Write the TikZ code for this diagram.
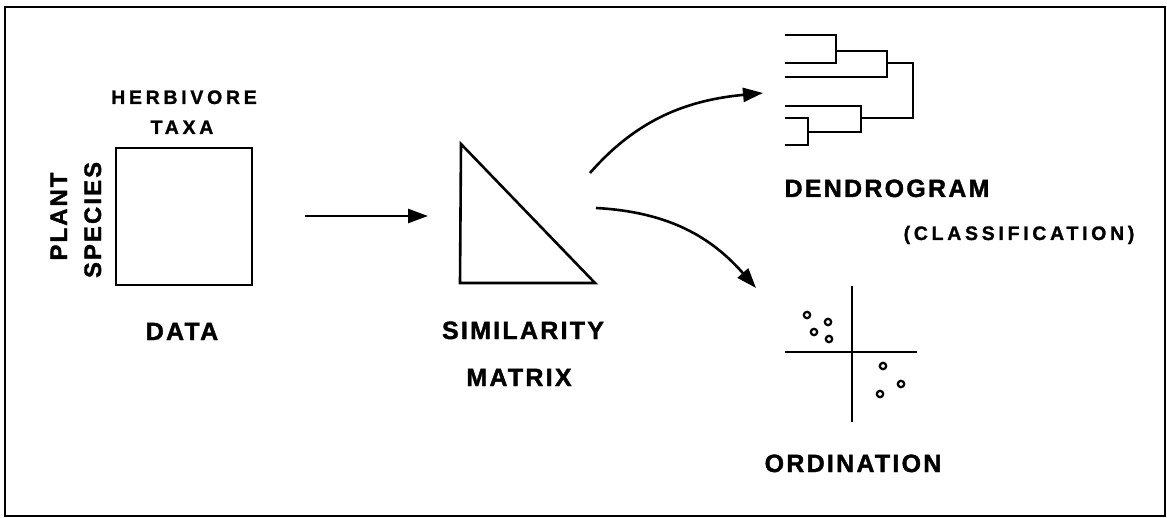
\documentclass[tikz,border=0pt]{standalone}
\usepackage{fontspec}
\setmainfont{Liberation Sans}
\newfontfamily\capsfont{Liberation Sans}[LetterSpace=9, FakeBold=1.5]
\newfontfamily\widecapsfont{Liberation Sans}[LetterSpace=19, FakeBold=1.2]
\usetikzlibrary{arrows.meta}

\begin{document}
\begin{tikzpicture}[x=0.5pt, y=-0.5pt, line width=1.3pt, >={Triangle[length=10pt,width=7pt]},
          title/.style={font=\capsfont\bfseries\fontsize{12.5}{14}\selectfont, inner sep=0pt, text height=9pt, text depth=0pt},
          axis/.style={font=\widecapsfont\bfseries\fontsize{9.75}{11}\selectfont, inner sep=0pt, text height=7pt, text depth=0pt},
          side/.style={font=\capsfont\bfseries\fontsize{11.9}{13}\selectfont, inner sep=0pt, text height=8.5pt, text depth=0pt, rotate=90},
          dot/.style={line width=1.1pt}]
        \useasboundingbox (0,0) rectangle (1167,518);
        \draw[line width=1pt] (5,7) rectangle (1165,516);
        % data
        \node[axis] (herb) at (184,97) {HERBIVORE};
        \node[axis] (taxa) at (182,127) {TAXA};
        \node[side] (plant) at (58.5,216.5) {PLANT};
        \node[side] (species) at (92.5,220) {SPECIES};
        \node[draw, minimum width=68pt, minimum height=68.5pt, inner sep=0pt] (data) at (184,216.5) {};
        \node[title] (datalbl) at (182,331) {DATA};
        \coordinate (a1) at (305,216);
        \coordinate (b1) at (428,216);
        \draw[->] (a1) -- (b1);
        % similarity matrix
        \draw[line join=miter] (461,144) -- (460,283) -- (595,283) -- cycle;
        \node[title] (simlbl) at (523,330) {SIMILARITY};
        \node[title] (matlbl) at (519,377) {MATRIX};
        \coordinate (a2) at (590,173);
        \coordinate (b2) at (763,93);
        \coordinate (a3) at (596,208);
        \coordinate (b3) at (756,288);
        \draw[->] (a2) .. controls (638,118) and (689,100) .. (b2);
        \draw[->] (a3) .. controls (670,212) and (712,238) .. (b3);
        % dendrogram
        \draw (785,35) -| (836,63) -- (785,63);
        \draw (836,51) -| (887,77) -- (785,77);
        \draw (887,63) -| (913,118) -- (861,118);
        \draw (785,106) -| (861,132) -- (808,132);
        \draw (785,118) -| (808,145) -- (785,145);
        \node[title] (dendlbl) at (887,188) {DENDROGRAM};
        \node[axis] (classlbl) at (1019,233) {(CLASSIFICATION)};
        % ordination
        \draw (852,286) -- (852,422);
        \draw (785,352) -- (917,352);
        \foreach \x/\y in {807/315, 828/322, 814/332, 829/339, 883/366, 901/384, 880/394}
          \draw[dot] (\x,\y) circle[radius=3.2];
        \node[title] (ordlbl) at (853,463) {ORDINATION};
      \end{tikzpicture}
\end{document}
